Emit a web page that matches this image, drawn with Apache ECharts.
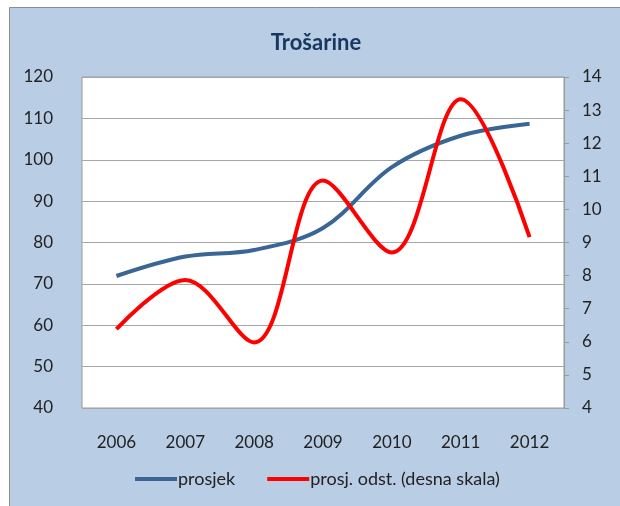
<!DOCTYPE html>
<html>
<head>
<meta charset="utf-8">
<script src="https://cdn.jsdelivr.net/npm/echarts@6/dist/echarts.min.js"></script>
<style>
    body { margin: 0; background: #fff; }
    #chart { width: 620px; height: 506px; }
</style>
</head>
<body>
<div id="chart"></div>
<script>
const years = ['2006', '2007', '2008', '2009', '2010', '2011', '2012'];
const prosjek = [71.9, 76.6, 78.2, 83.5, 98.2, 105.8, 108.7];
const odstupanje = [6.38, 7.87, 5.98, 10.87, 8.7, 13.33, 9.16];

const fontFamily = 'Lato, "Open Sans", sans-serif';

const chart = echarts.init(document.getElementById('chart'));

chart.setOption({
    animation: false,
    graphic: [{
        type: 'rect',
        z: -10,
        shape: { x: 9.5, y: 7.5, width: 640, height: 520 },
        style: { fill: '#B9CDE5', stroke: '#8C8C8C', lineWidth: 1 }
    }],
    title: {
        text: 'Trošarine',
        left: 311,
        textAlign: 'center',
        top: 27,
        textStyle: { fontFamily: fontFamily, fontSize: 22, fontWeight: 'bold', color: '#17375E' }
    },
    grid: {
        left: 82, right: 56, top: 77, bottom: 98,
        show: true,
        backgroundColor: '#fff',
        borderColor: '#9A9A9A',
        borderWidth: 1
    },
    legend: {
        left: 130,
        top: 465,
        itemWidth: 42,
        itemHeight: 4,
        itemGap: 32,
        icon: 'rect',
        textStyle: { fontFamily: fontFamily, fontSize: 18, color: '#222', padding: [0, 0, 0, -4] },
        data: ['prosjek', 'prosj. odst. (desna skala)']
    },
    xAxis: {
        type: 'category',
        data: years,
        axisLine: { show: false },
        axisTick: { show: false },
        axisLabel: { margin: 26, fontFamily: fontFamily, fontSize: 17, color: '#222' }
    },
    yAxis: [{
        type: 'value',
        min: 40, max: 120, interval: 10,
        axisLine: { show: false },
        axisTick: { show: false },
        axisLabel: { margin: 29, fontFamily: fontFamily, fontSize: 17, color: '#222' },
        splitLine: { lineStyle: { color: '#A6A6A6', width: 1 } }
    }, {
        type: 'value',
        position: 'right',
        min: 4, max: 14, interval: 1,
        axisLine: { show: true, lineStyle: { color: '#9A9A9A' } },
        axisTick: { show: true, length: 5, lineStyle: { color: '#9A9A9A' } },
        axisLabel: { margin: 18, fontFamily: fontFamily, fontSize: 17, color: '#222' },
        splitLine: { show: false }
    }],
    series: [{
        name: 'prosjek',
        type: 'line',
        data: prosjek,
        yAxisIndex: 0,
        smooth: 0.35,
        symbol: 'none',
        color: '#3A6696',
        lineStyle: { width: 4, color: '#3A6696' }
    }, {
        name: 'prosj. odst. (desna skala)',
        type: 'line',
        data: odstupanje,
        yAxisIndex: 1,
        smooth: 0.35,
        symbol: 'none',
        color: '#FF0000',
        lineStyle: { width: 4, color: '#FF0000' }
    }]
});
</script>
</body>
</html>
